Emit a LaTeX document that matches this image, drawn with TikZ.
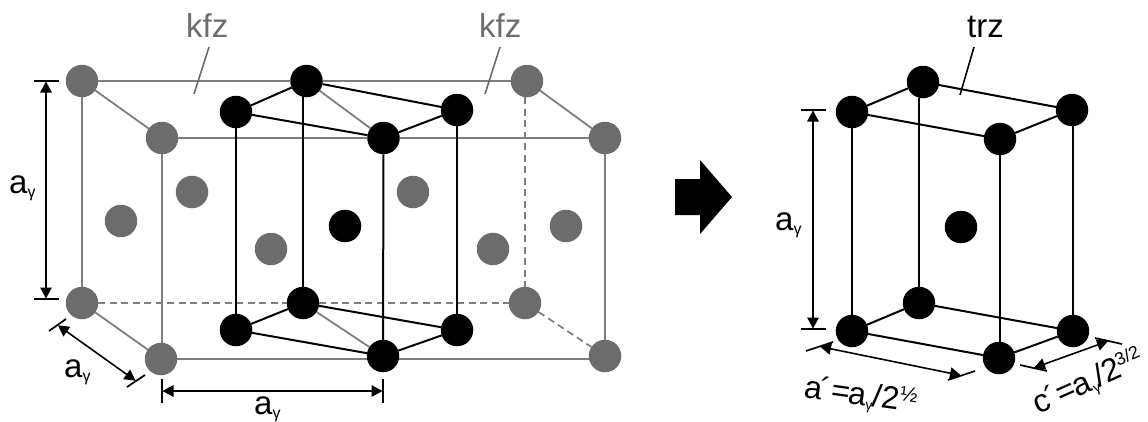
\documentclass[tikz,border=0pt]{standalone}
\usepackage{fontspec}
\setmainfont{Liberation Sans}
\usetikzlibrary{arrows.meta}
\definecolor{atomgray}{HTML}{6C6C6C}
\definecolor{linegray}{HTML}{7E7E7E}
\newcommand{\fs}[1]{\fontsize{#1}{#1}\selectfont}
\newcommand{\agam}{a\raisebox{-4pt}{\fs{16}γ}}
\newcommand{\agams}{a\raisebox{-4pt}{\fs{14}γ}}
\tikzset{
  gatom/.style={circle,fill=atomgray,minimum size=32.5pt,inner sep=0pt,outer sep=0pt},
  batom/.style={circle,fill=black,minimum size=32.5pt,inner sep=0pt,outer sep=0pt},
  gline/.style={draw=linegray,line width=1.8pt},
  gdash/.style={draw=linegray,line width=1.7pt,dash pattern=on 7pt off 4.5pt},
  bline/.style={draw=black,line width=2pt},
  tick/.style={draw=black,line width=1.7pt},
  dimline/.style={draw=black,line width=1.6pt,{Triangle[width=11.5pt,length=11pt]}-{Triangle[width=11.5pt,length=11pt]},shorten <=0.5pt,shorten >=0.5pt},
  lab/.style={inner sep=0pt,anchor=base west,font=\fs{33}},
  leader/.style={line width=1.6pt}
}
\begin{document}
\begin{tikzpicture}[x=1pt,y=-1pt]
\useasboundingbox (0,0) rectangle (1148,421);
% left: grey atoms
\node[gatom] (A) at (82,81) {};
\node[gatom] (B) at (162,138) {};
\node[gatom] (C) at (527,81) {};
\node[gatom] (D) at (605,138) {};
\node[gatom] (E) at (82,303) {};
\node[gatom] (F) at (161,359) {};
\node[gatom] (G) at (525,303) {};
\node[gatom] (H) at (605,356) {};
\node[gatom] (f1) at (121,221) {};
\node[gatom] (f2) at (192,192) {};
\node[gatom] (f3) at (271,249) {};
\node[gatom] (f4) at (413,192) {};
\node[gatom] (f5) at (493,249) {};
\node[gatom] (f6) at (566,226) {};
% left: black atoms
\node[batom] (t1) at (236,112) {};
\node[batom] (t2) at (306.5,81) {};
\node[batom] (t3) at (383.5,138) {};
\node[batom] (t4) at (457,110) {};
\node[batom] (b1) at (236,330) {};
\node[batom] (b2) at (303,303) {};
\node[batom] (b3) at (383,356) {};
\node[batom] (b4) at (457,330) {};
\node[batom] (cl) at (345,226) {};
% grey cell lines
\draw[gline] (A) -- (t2);
\draw[gline] (t2) -- (C);
\draw[gline] (A) -- (B);
\draw[gline] (B) -- (t3);
\draw[gline] (t3) -- (D);
\draw[gline] (C) -- (D);
\draw[gline] (t2) -- (t3);
\draw[gline] (b2) -- (b3);
\draw[gline] (A) -- (E);
\draw[gline] (B) -- (B|-F.north);
\draw[gline] (D) -- (H);
\draw[gline] (E) -- (F);
\draw[gline] (F) -- (F-|b3.west);
\draw[gline] (b3.east|-F) -- (F-|H.west);
\draw[gdash] (E) -- (b2);
\draw[gdash] (b2) -- (G);
\draw[gdash] (G|-C.south) -- (G);
\draw[gdash] (G) -- (H);
% black cell lines
\draw[bline] (t1) -- (t2);
\draw[bline] (t2) -- (t4);
\draw[bline] (t1) -- (t3);
\draw[bline] (t3) -- (t4);
\draw[bline] (b1) -- (b2);
\draw[bline] (b2) -- (b4);
\draw[bline] (b1) -- (b3);
\draw[bline] (b3) -- (b4);
\draw[bline] (t1) -- (b1);
\draw[bline] (b2|-t2.south) -- (b2);
\draw[bline] (t3) -- (b3);
\draw[bline] (t4) -- (b4);
% left dimensions
\coordinate (v1a) at (34,81); \coordinate (v1b) at (59,81);
\coordinate (v2a) at (34,299); \coordinate (v2b) at (59,299);
\coordinate (v1) at (46,81); \coordinate (v2) at (46,299);
\draw[tick] (v1a) -- (v1b);
\draw[tick] (v2a) -- (v2b);
\draw[dimline] (v1) -- (v2);
\coordinate (d1a) at (49,331); \coordinate (d1b) at (66,319);
\coordinate (d2a) at (127,387); \coordinate (d2b) at (145,375);
\coordinate (d1) at (57.5,325); \coordinate (d2) at (136,381);
\draw[tick] (d1a) -- (d1b);
\draw[tick] (d2a) -- (d2b);
\draw[dimline] (d1) -- (d2);
\coordinate (h1a) at (162,379); \coordinate (h1b) at (162,403);
\coordinate (h2a) at (383,379); \coordinate (h2b) at (383,403);
\coordinate (h1) at (162,391); \coordinate (h2) at (383,391);
\draw[tick] (h1a) -- (h1b);
\draw[tick] (h2a) -- (h2b);
\draw[dimline] (h1) -- (h2);
\node[lab] (la1) at (9,193) {\agam};
\node[lab] (la2) at (64,377) {\agam};
\node[lab] (la3) at (254,414) {\agam};
% kfz labels
\node[lab,text=atomgray] (k1) at (186,37) {kfz};
\node[lab,text=atomgray] (k2) at (479,37) {kfz};
\coordinate (k1a) at (209,47); \coordinate (k1b) at (194,94);
\coordinate (k2a) at (500,47); \coordinate (k2b) at (485,94);
\draw[leader,draw=atomgray] (k1a) -- (k1b);
\draw[leader,draw=atomgray] (k2a) -- (k2b);
% big arrow
\fill[black] (675,179) -- (700,179) -- (700,160) -- (732,197) -- (700,234) -- (700,215) -- (675,215) -- cycle;
% right cell
\node[batom] (r1) at (852,112) {};
\node[batom] (r2) at (923,82) {};
\node[batom] (r3) at (1000,139) {};
\node[batom] (r4) at (1072,110) {};
\node[batom] (s1) at (852,331) {};
\node[batom] (s2) at (919,303) {};
\node[batom] (s3) at (999,358) {};
\node[batom] (s4) at (1073,331) {};
\node[batom] (rc) at (961,227) {};
\draw[bline] (r1) -- (r2);
\draw[bline] (r2) -- (r4);
\draw[bline] (r1) -- (r3);
\draw[bline] (r3) -- (r4);
\draw[bline] (s1) -- (s2);
\draw[bline] (s2) -- (s4);
\draw[bline] (s1) -- (s3);
\draw[bline] (s3) -- (s4);
\draw[bline] (r1) -- (s1);
\draw[bline] (s2|-r2.south) -- (s2);
\draw[bline] (r3) -- (r3|-s3.north);
\draw[bline] (s4|-r4.south) -- (s4);
% right dimensions
\coordinate (w1a) at (801,110); \coordinate (w1b) at (826,110);
\coordinate (w2a) at (801,329); \coordinate (w2b) at (826,329);
\coordinate (w1) at (813,110); \coordinate (w2) at (813,329);
\draw[tick] (w1a) -- (w1b);
\draw[tick] (w2a) -- (w2b);
\draw[dimline] (w1) -- (w2);
\coordinate (p1a) at (806,351); \coordinate (p1b) at (833,342);
\coordinate (p2a) at (948,380); \coordinate (p2b) at (975,371);
\coordinate (p1) at (819.5,346.5); \coordinate (p2) at (961.5,375.5);
\draw[tick] (p1a) -- (p1b);
\draw[tick] (p2a) -- (p2b);
\draw[dimline] (p1) -- (p2);
\coordinate (q1a) at (1020,365); \coordinate (q1b) at (1047,371);
\coordinate (q2a) at (1095,338); \coordinate (q2b) at (1122,344);
\coordinate (q1) at (1033.5,368); \coordinate (q2) at (1108.5,341);
\draw[tick] (q1a) -- (q1b);
\draw[tick] (q2a) -- (q2b);
\draw[dimline] (q1) -- (q2);
\node[lab] (la4) at (775,230) {\agam};
\node[lab] (trz) at (967,37) {trz};
\coordinate (tza) at (974,47); \coordinate (tzb) at (960,95);
\draw[leader,draw=black] (tza) -- (tzb);
\node[lab,rotate=-8,font=\fs{32}] (ap) at (803,397) {a\kern-2pt´\kern1pt=\kern-1pt\agams\kern-1pt/2\raisebox{10pt}{\fs{21}½}};
\node[lab,rotate=24,font=\fs{32}] (cp) at (1038,415) {c\kern-2pt´\kern1pt=\kern-1pt\agams\kern-1pt/2\raisebox{12pt}{\fs{18}\kern-1pt3/2}};
\end{tikzpicture}
\end{document}
